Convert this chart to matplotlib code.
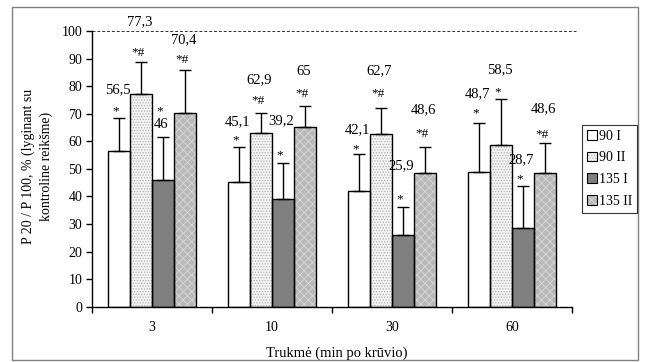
"""
P20/P100 ratio after load: grouped bars with SD whiskers and significance marks.
"""

import numpy as np
import matplotlib
matplotlib.use("Agg")
import matplotlib.pyplot as plt
from matplotlib.patches import Rectangle, Patch
from matplotlib.legend_handler import HandlerTuple

plt.rcParams["font.family"] = ["Liberation Serif", "DejaVu Serif"]
plt.rcParams["font.size"] = 10
plt.rcParams["hatch.linewidth"] = 0.6

# ─────────────────────────────────────────────
# Data
# ─────────────────────────────────────────────

durations = ["3", "10", "30", "60"]
series_names = ["90 I", "90 II", "135 I", "135 II"]

ratio_90_i = [56.5, 45.1, 42.1, 48.7]
ratio_90_ii = [77.3, 62.9, 62.7, 58.5]
ratio_135_i = [46.0, 39.2, 25.9, 28.7]
ratio_135_ii = [70.4, 65.0, 48.6, 48.6]

sd_90_i = [12.1, 12.9, 13.2, 17.9]
sd_90_ii = [11.3, 7.5, 9.5, 16.8]
sd_135_i = [15.7, 12.8, 10.1, 15.1]
sd_135_ii = [15.5, 7.8, 9.2, 10.9]

marks_90_i = ["*", "*", "*", "*"]
marks_90_ii = ["*#", "*#", "*#", "*"]
marks_135_i = ["*", "*", "*", "*"]
marks_135_ii = ["*#", "*#", "*#", "*#"]

control_level = 100

# ─────────────────────────────────────────────
# Label layout (hand placed in the original)
# ─────────────────────────────────────────────

value_label_y = [
    [78.8, 67.0, 64.1, 77.4],
    [103.5, 82.5, 85.6, 85.9],
    [66.0, 67.4, 51.0, 53.5],
    [96.7, 85.2, 71.4, 72.0],
]
mark_label_y = [
    [71.0, 60.2, 57.0, 70.0],
    [92.0, 74.6, 77.3, 77.8],
    [71.0, 54.8, 38.8, 46.2],
    [89.6, 77.3, 62.5, 62.2],
]

# ─────────────────────────────────────────────
# Styles
# ─────────────────────────────────────────────

face_colors = ["white", "#f4f4f4", "#808080", "#b8b8b8"]
hatch_colors = ["white", "#b0b0b0", "#808080", "#d8d8d8"]
hatches = [None, "......", None, "xxxx"]


def fmt_value(v):
    return f"{v:g}".replace(".", ",")


def plot_chart(output_path="out.png"):
    values = [ratio_90_i, ratio_90_ii, ratio_135_i, ratio_135_ii]
    errors = [sd_90_i, sd_90_ii, sd_135_i, sd_135_ii]
    marks = [marks_90_i, marks_90_ii, marks_135_i, marks_135_ii]

    fig = plt.figure(figsize=(6.45, 3.62), dpi=100)
    ax = fig.add_axes([92 / 645, 55.3 / 362, 480 / 645, 275.7 / 362])

    x = np.arange(len(durations))
    width = 22 / 120
    px = 1 / 120

    handles = []
    for j, name in enumerate(series_names):
        xs = x + (j - 1.5) * width
        vals = np.array(values[j])
        # hatch layer first, then a plain black outline on top
        ax.bar(xs, vals, width, color=face_colors[j], hatch=hatches[j],
               edgecolor=hatch_colors[j], linewidth=0, zorder=2)
        ax.bar(xs, vals, width, fill=False, edgecolor="black",
               linewidth=1.0, zorder=3)
        ax.errorbar(xs, vals, yerr=[np.zeros_like(vals), errors[j]],
                    fmt="none", ecolor="black", elinewidth=1.0,
                    capsize=4, capthick=1.0, zorder=4)
        for i in range(len(durations)):
            ax.text(xs[i] - 1.5 * px, value_label_y[j][i], fmt_value(vals[i]),
                    ha="center", va="center", fontsize=10.5, clip_on=False)
            ax.text(xs[i] - 3.5 * px, mark_label_y[j][i], marks[j][i],
                    ha="center", va="center", fontsize=9.5, clip_on=False)
        handles.append((
            Patch(facecolor=face_colors[j], hatch=hatches[j],
                  edgecolor=hatch_colors[j], linewidth=0),
            Patch(fill=False, edgecolor="black", linewidth=0.8),
        ))

    ax.plot([-0.5, 3.53], [control_level, control_level], color="#303030",
            lw=0.7, dashes=(3, 2), clip_on=False, zorder=1)

    ax.set_xlim(-0.5, 3.5)
    ax.set_ylim(0, 100)
    ax.set_yticks(np.arange(0, 101, 10))
    ax.set_xticks(np.arange(-0.5, 3.6, 1.0))
    ax.set_xticklabels([])
    ax.set_xticks(x, minor=True)
    ax.set_xticklabels(durations, minor=True)
    ax.tick_params(axis="x", which="major", direction="out", length=4, width=1)
    ax.tick_params(axis="x", which="minor", length=0, pad=10, labelsize=10)
    ax.tick_params(axis="y", direction="out", length=4, width=1, pad=3,
                   labelsize=10)
    for side in ("top", "right"):
        ax.spines[side].set_visible(False)
    for side in ("left", "bottom"):
        ax.spines[side].set_linewidth(1.0)

    fig.text(37 / 645, 1 - 166 / 362,
             "P 20 / P 100, % (lyginant su\nkontroline reikšme)",
             rotation=90, ha="center", va="center", linespacing=1.45,
             multialignment="center", fontsize=10)
    fig.text(337 / 645, 1 - 353 / 362, "Trukmė (min po krūvio)",
             ha="center", va="center", fontsize=10.5)

    leg = fig.legend(handles, series_names, loc="upper left",
                     bbox_to_anchor=(582 / 645, 1 - 125 / 362),
                     handler_map={tuple: HandlerTuple(ndivide=1, pad=0)},
                     frameon=True, fancybox=False, shadow=False,
                     handlelength=0.7, handleheight=0.7, handletextpad=0.15,
                     labelspacing=0.62, borderpad=0.35, borderaxespad=0,
                     fontsize=10)
    leg.get_frame().set_edgecolor("black")
    leg.get_frame().set_linewidth(0.8)

    fig.patches.append(Rectangle((12 / 645, 2 / 362), 626 / 645, 353 / 362,
                                 transform=fig.transFigure, fill=False,
                                 edgecolor="#808080", linewidth=1.0))

    fig.savefig(output_path, dpi=100)
    plt.close(fig)


if __name__ == "__main__":
    plot_chart()
